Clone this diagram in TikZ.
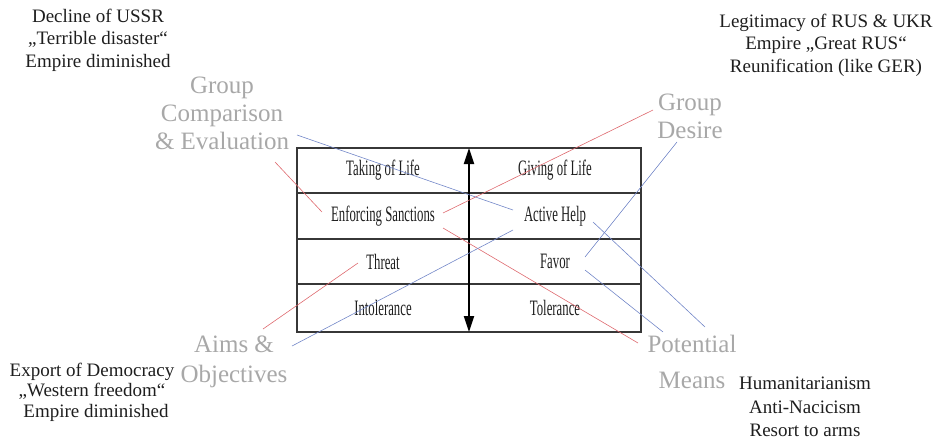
\documentclass[tikz,border=0pt]{standalone}
\usepackage{fontspec}
\setmainfont{Liberation Serif}
\newfontfamily\serifface{Liberation Serif}
\newfontfamily\cellfont[FakeStretch=0.58]{Liberation Serif}
\usetikzlibrary{arrows.meta}

\definecolor{labelgray}{RGB}{168,168,168}
\definecolor{textdark}{RGB}{30,30,30}
\definecolor{linkred}{RGB}{222,105,110}
\definecolor{linkblue}{RGB}{115,135,200}
\definecolor{gridline}{RGB}{55,55,55}

\tikzset{
  note/.style={inner sep=0pt, align=center, text=textdark,
    font=\serifface\fontsize{19}{22.5}\selectfont},
  facet/.style={inner sep=0pt, align=center, text=labelgray,
    font=\serifface\fontsize{25}{28}\selectfont},
  cell/.style={inner sep=0pt, text=textdark,
    font=\cellfont\fontsize{22}{24}\selectfont},
  grid/.style={draw=gridline, line width=1.3pt},
  redlink/.style={draw=linkred, line width=0.6pt},
  bluelink/.style={draw=linkblue, line width=0.6pt},
  scale axis/.style={line width=2pt, {Triangle[length=16pt,width=10pt]}-{Triangle[length=16pt,width=10pt]}}
}

\begin{document}
\begin{tikzpicture}[x=1pt,y=-1pt]
\useasboundingbox (0,0) rectangle (942,440);

% outer context notes
\node[note] (ussr) at (98,40) {Decline of USSR\\„Terrible disaster“\\Empire diminished};
\node[note] (legit) at (826,45) {Legitimacy of RUS \& UKR\\Empire „Great RUS“\\Reunification (like GER)};
\node[note, font=\serifface\fontsize{19}{20.5}\selectfont] (demo) at (92,392) {Export of Democracy\\„Western freedom“\hspace*{24pt}\\\hspace*{8pt}Empire diminished};
\node[note, font=\serifface\fontsize{19}{23.5}\selectfont] (human) at (805,407) {Humanitarianism\\Anti-Nacicism\\Resort to arms};

% facet labels
\node[facet] (gc) at (222,113) {Group\\Comparison\\\& Evaluation};
\node[facet] (gd) at (690,116) {Group\\Desire};
\node[facet, font=\serifface\fontsize{25}{30}\selectfont] (ao) at (234,362) {Aims \&\\Objectives};
\node[facet, font=\serifface\fontsize{25}{36}\selectfont] (pm) at (692,362) {Potential\\Means};

% scale table
\draw[grid] (297,148) rectangle (641,332);
\draw[grid] (297,193) -- (641,193);
\draw[grid] (297,239) -- (641,239);
\draw[grid] (297,284) -- (641,284);

\coordinate (axtop) at (469,148);
\coordinate (axbot) at (469,332);
\draw[scale axis] (axtop) -- (axbot);

\node[cell] (take)   at (383,170.5) {Taking of Life};
\node[cell] (give)   at (555,170.5) {Giving of Life};
\node[cell] (sanc)   at (383,216)   {Enforcing Sanctions};
\node[cell] (help)   at (555,216)   {Active Help};
\node[cell] (threat) at (383,261.5) {Threat};
\node[cell] (favor)  at (555,261.5) {Favor};
\node[cell] (intol)  at (383,308)   {Intolerance};
\node[cell] (tol)    at (555,308)   {Tolerance};

% link end points
\coordinate (gc-r)    at (275,162);
\coordinate (gc-b)    at (297,135);
\coordinate (gd-r)    at (653,110);
\coordinate (gd-b)    at (677,142);
\coordinate (ao-r)    at (263,329);
\coordinate (ao-b)    at (292,346);
\coordinate (pm-r)    at (638,343);
\coordinate (pm-b1)   at (705,327);
\coordinate (pm-b2)   at (663,332);
\coordinate (sanc-w)  at (322,212);
\coordinate (sanc-e1) at (443,213);
\coordinate (sanc-e2) at (443,228);
\coordinate (threat-w) at (358,263);
\coordinate (help-w1) at (513,210);
\coordinate (help-w2) at (513,230);
\coordinate (help-e)  at (593,222);
\coordinate (favor-e1) at (585,257);
\coordinate (favor-e2) at (585,270);

% red links (left column)
\draw[redlink] (gc-r) -- (sanc-w);
\draw[redlink] (sanc-e1) -- (gd-r);
\draw[redlink] (sanc-e2) -- (pm-r);
\draw[redlink] (threat-w) -- (ao-r);

% blue links (right column)
\draw[bluelink] (gc-b) -- (help-w1);
\draw[bluelink] (help-w2) -- (ao-b);
\draw[bluelink] (favor-e1) -- (gd-b);
\draw[bluelink] (help-e) -- (pm-b1);
\draw[bluelink] (favor-e2) -- (pm-b2);
\end{tikzpicture}
\end{document}
